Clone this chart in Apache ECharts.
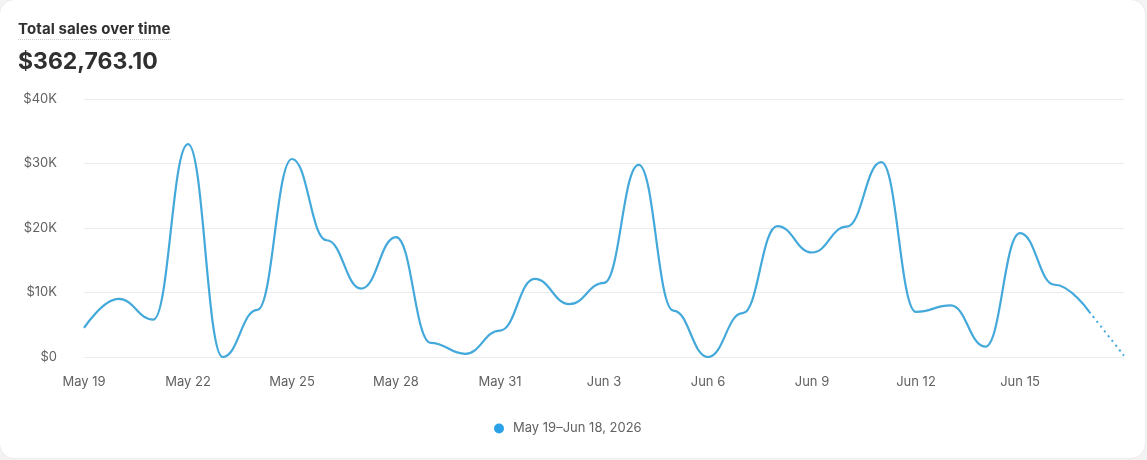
<!DOCTYPE html>
<html>
<head>
<meta charset="utf-8">
<script src="https://cdn.jsdelivr.net/npm/echarts@6/dist/echarts.min.js"></script>
<style>
  html, body { margin: 0; padding: 0; background: #f3f3f3; }
  body { width: 1147px; height: 460px; overflow: hidden; font-family: Inter, "Noto Sans", sans-serif; }
  #card { position: absolute; left: 0; top: 0; width: 1145px; height: 458px; background: #fff; border-radius: 14px; box-shadow: 0 0 1px rgba(0,0,0,0.15); }
  #title { position: absolute; left: 18px; top: 19px; font-size: 15px; font-weight: 650; color: #303030; padding-bottom: 1px; border-bottom: 1.5px dotted #c9c9c9; letter-spacing: 0.1px; }
  #total { position: absolute; left: 18px; top: 47px; font-size: 23px; font-weight: 700; color: #303030; letter-spacing: 0px; }
  #chart { position: absolute; left: 0; top: 0; width: 1147px; height: 460px; }
</style>
</head>
<body>
<div id="card"></div>
<div id="chart"></div>
<div id="title">Total sales over time</div>
<div id="total">$362,763.10</div>
<script>
const categories = ["May 19","May 20","May 21","May 22","May 23","May 24","May 25","May 26","May 27","May 28","May 29","May 30","May 31","Jun 1","Jun 2","Jun 3","Jun 4","Jun 5","Jun 6","Jun 7","Jun 8","Jun 9","Jun 10","Jun 11","Jun 12","Jun 13","Jun 14","Jun 15","Jun 16","Jun 17","Jun 18"];
const sales = [4500, 9000, 5800, 33000, 0, 7300, 30700, 18100, 10600, 18600, 2200, 500, 4100, 12100, 8200, 11500, 29800, 7200, 0, 6800, 20300, 16200, 20200, 30200, 7000, 8000, 1600, 19200, 11200, 7000, 200];
const tickLabels = ["May 19","May 22","May 25","May 28","May 31","Jun 3","Jun 6","Jun 9","Jun 12","Jun 15"];
const yTicks = [0, 10000, 20000, 30000, 40000];
const legendLabel = "May 19\u2013Jun 18, 2026";

const lastSolid = categories.length - 2;
const solidData = sales.map((v, i) => i <= lastSolid ? v : null);
const dottedData = sales.map((v, i) => i >= lastSolid ? v : null);

const chart = echarts.init(document.getElementById('chart'), null, { renderer: 'canvas' });
chart.setOption({
  animation: false,
  textStyle: { fontFamily: 'Inter, "Noto Sans", sans-serif' },
  grid: { left: 84, right: 23, top: 99, bottom: 103, containLabel: false },
  xAxis: {
    type: 'category',
    data: categories,
    boundaryGap: false,
    axisLine: { show: false },
    axisTick: { show: false },
    axisLabel: {
      interval: (i, v) => tickLabels.indexOf(v) !== -1,
      color: '#616161', fontSize: 13, margin: 19
    },
    splitLine: { show: false }
  },
  yAxis: {
    type: 'value',
    min: yTicks[0],
    max: yTicks[yTicks.length - 1],
    interval: 10000,
    axisLine: { show: false },
    axisTick: { show: false },
    axisLabel: { color: '#616161', fontSize: 13, margin: 27, formatter: v => v === 0 ? '$0' : '$' + (v / 1000) + 'K' },
    splitLine: { lineStyle: { color: '#ececec', width: 1 } }
  },
  legend: {
    bottom: 20,
    left: 489,
    icon: 'circle',
    itemWidth: 10,
    itemHeight: 10,
    itemGap: 10,
    textStyle: { color: '#616161', fontSize: 13, padding: [0, 0, 0, 4] },
    data: [{ name: legendLabel, itemStyle: { color: '#2ba2e8' } }]
  },
  series: [
    {
      name: legendLabel,
      type: 'line',
      data: solidData,
      smooth: 0.45,
      smoothMonotone: 'x',
      showSymbol: false,
      lineStyle: { color: '#43a8da', width: 2.2 },
      itemStyle: { color: '#2ba2e8' }
    },
    {
      name: 'trail',
      type: 'line',
      data: dottedData,
      smooth: true,
      showSymbol: false,
      lineStyle: { color: '#43a8da', width: 2, type: [2, 4] },
      itemStyle: { color: '#43a8da' }
    }
  ]
});
</script>
</body>
</html>
